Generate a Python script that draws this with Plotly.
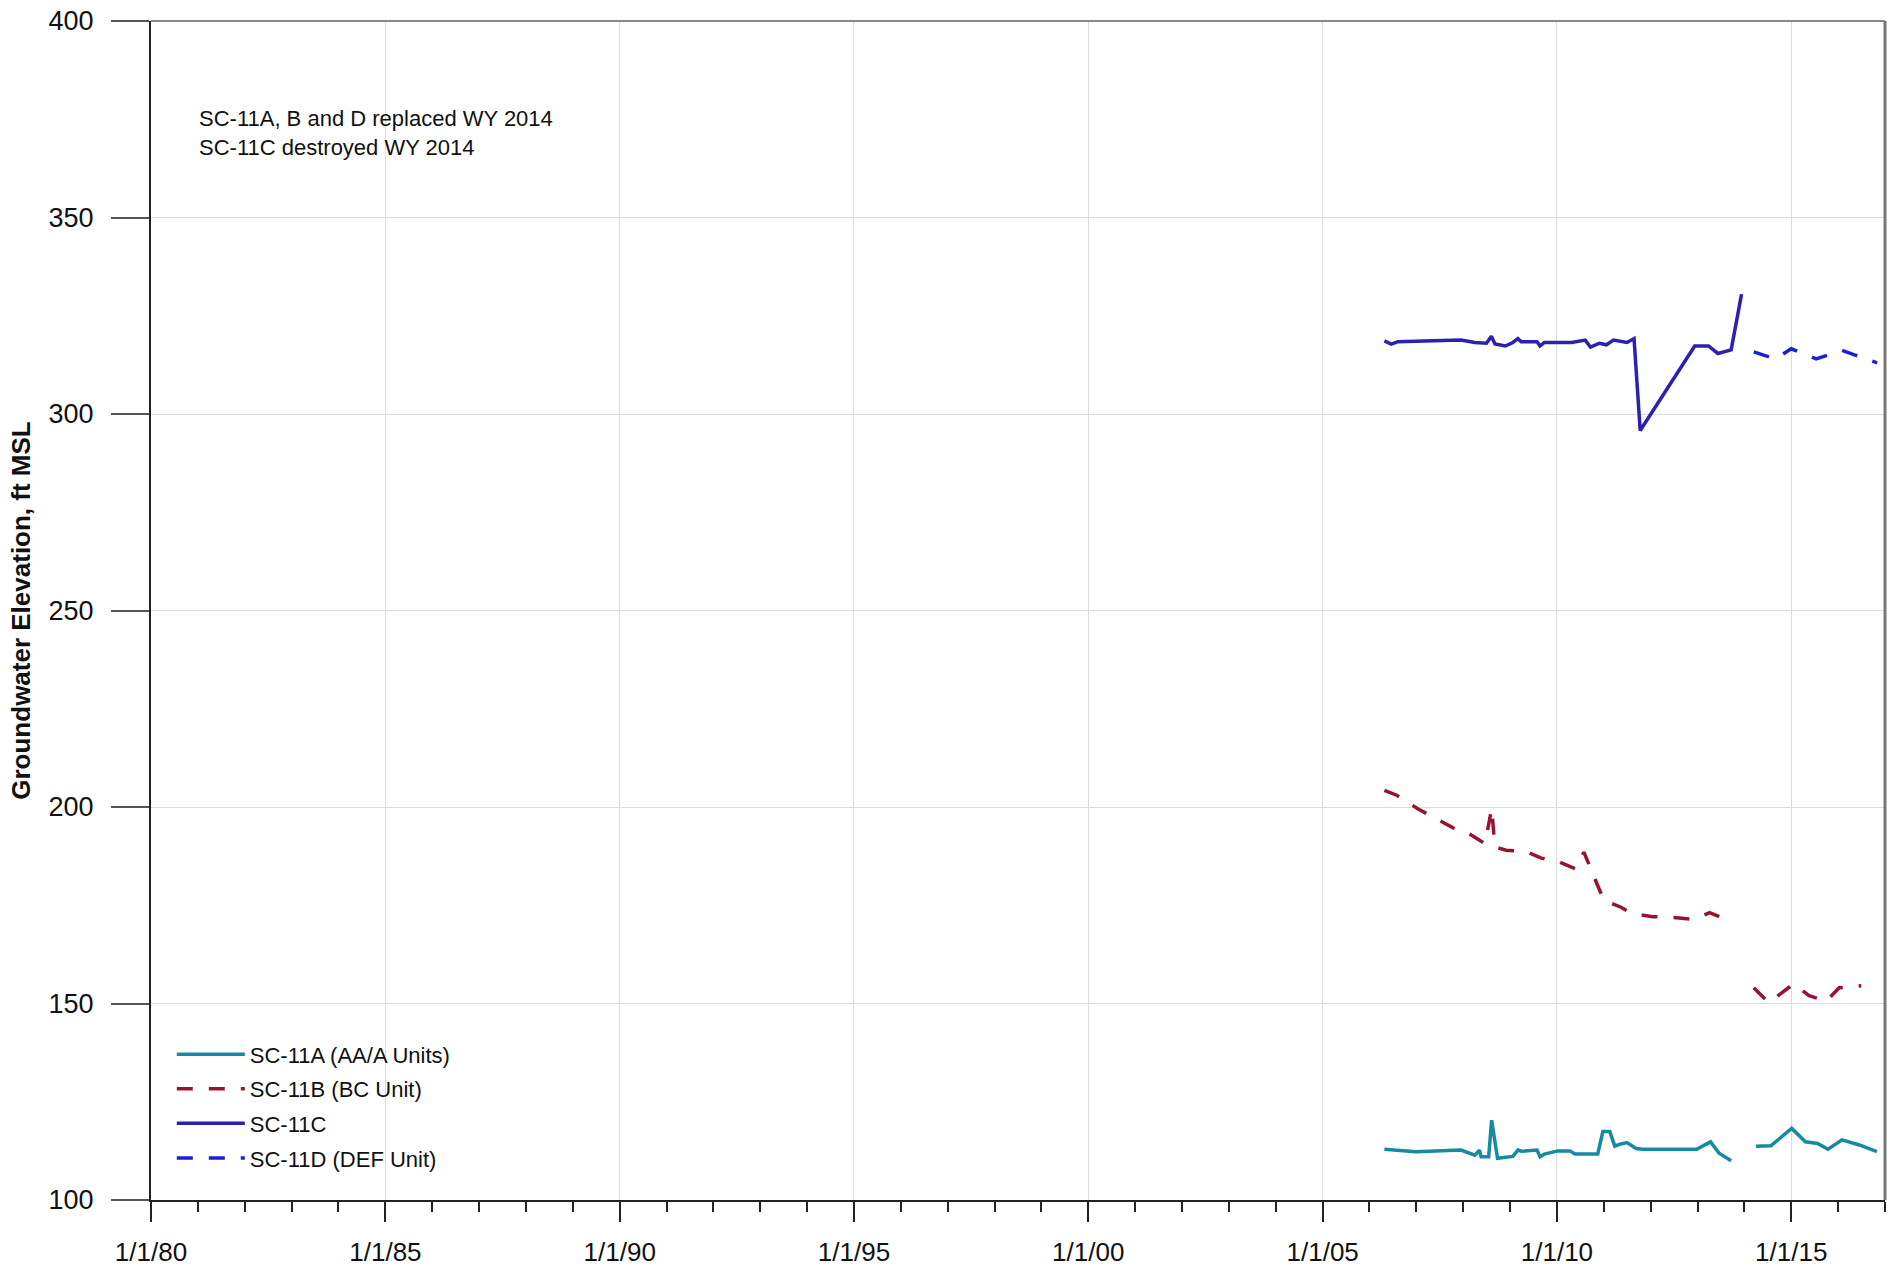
import plotly.graph_objects as go

# ---------------- data ----------------
sc11a_dates = ["2006-04-27", "2006-12-28", "2007-12-15", "2008-04-01", "2008-05-08", "2008-05-20",
               "2008-07-18", "2008-08-10", "2008-09-25", "2008-11-25", "2009-01-22", "2009-03-03",
               "2009-04-01", "2009-07-30", "2009-08-22", "2009-09-25", "2010-01-08", "2010-04-12",
               "2010-05-22", "2010-11-15", "2010-12-25", "2011-02-17", "2011-03-28", "2011-05-08",
               "2011-07-01", "2011-09-10", "2011-10-30", "2012-12-25", "2013-04-12", "2013-06-18",
               "2013-09-20", "2014-01-01",
               "2014-04-01", "2014-07-26", "2015-01-05", "2015-04-22", "2015-07-26", "2015-10-15",
               "2016-02-01", "2016-06-15", "2016-10-30"]
sc11a_vals = [112.9, 112.3, 112.7, 111.4, 112.7, 111.0,
              111.0, 120.3, 110.6, 110.8, 111.1, 112.7,
              112.4, 112.7, 111.0, 111.7, 112.5, 112.5,
              111.7, 111.7, 117.4, 117.4, 113.7, 114.2,
              114.6, 113.1, 112.9, 112.9, 114.8, 111.9,
              110.0, None,
              113.7, 113.8, 118.2, 114.8, 114.4, 112.9,
              115.3, 114.0, 112.3]

sc11b_dates = ["2006-04-27", "2006-08-01", "2007-01-15", "2007-10-15", "2008-02-15", "2008-06-20",
               "2008-08-10", "2008-09-05", "2008-12-01", "2009-05-01", "2009-09-01", "2010-01-20",
               "2010-05-25", "2010-07-30", "2011-01-01", "2011-05-15", "2011-08-15", "2012-01-20",
               "2012-07-01", "2012-12-05", "2013-04-05", "2013-09-20", "2014-01-01",
               "2014-03-15", "2014-07-10", "2015-01-20", "2015-05-20", "2015-10-01", "2016-01-10",
               "2016-06-30"]
sc11b_vals = [204.2, 203.0, 199.5, 194.7, 193.2, 190.7,
              199.6, 189.8, 189.0, 188.7, 187.0, 186.0,
              184.3, 188.5, 176.3, 174.5, 172.8, 172.1,
              171.9, 171.4, 173.1, 170.9, None,
              154.0, 150.2, 155.0, 152.0, 150.6, 154.0,
              154.5]

sc11c_dates = ["2006-04-27", "2006-06-20", "2006-08-10", "2007-12-15", "2008-04-01", "2008-07-01",
               "2008-08-08", "2008-09-05", "2008-11-25", "2009-01-22", "2009-03-03", "2009-03-28",
               "2009-07-30", "2009-08-22", "2009-09-25", "2010-04-25", "2010-08-10", "2010-09-20",
               "2010-11-28", "2011-01-22", "2011-03-18", "2011-05-08", "2011-07-01", "2011-08-25",
               "2011-10-12", "2012-12-10", "2013-03-28", "2013-06-08", "2013-09-20", "2013-12-10"]
sc11c_vals = [318.6, 317.8, 318.4, 318.8, 318.2, 318.0,
              319.8, 317.8, 317.3, 318.2, 319.2, 318.4,
              318.4, 317.3, 318.2, 318.2, 318.8, 317.0,
              318.0, 317.6, 318.8, 318.4, 318.2, 319.2,
              295.8, 317.3, 317.3, 315.4, 316.3, 330.5]

sc11d_dates = ["2014-03-15", "2014-09-01", "2015-01-01", "2015-07-15", "2016-02-01", "2016-11-01"]
sc11d_vals = [315.8, 314.0, 316.6, 314.0, 316.2, 313.0]

x_tick_vals = ["1980-01-01", "1985-01-01", "1990-01-01", "1995-01-01", "2000-01-01",
               "2005-01-01", "2010-01-01", "2015-01-01"]
x_tick_text = ["1/1/80", "1/1/85", "1/1/90", "1/1/95", "1/1/00", "1/1/05", "1/1/10", "1/1/15"]
y_tick_vals = [100, 150, 200, 250, 300, 350, 400]

names = ["SC-11A (AA/A Units)", "SC-11B (BC Unit)", "SC-11C", "SC-11D (DEF Unit)"]

# ---------------- figure ----------------
FONT = "Liberation Sans, Arial, sans-serif"
fig = go.Figure()

fig.add_trace(go.Scatter(x=sc11a_dates, y=sc11a_vals, mode="lines", name=names[0],
                         legendgroup="a", line=dict(color="#168aa3", width=3.5)))
fig.add_trace(go.Scatter(x=sc11b_dates, y=sc11b_vals, mode="lines", name=names[1],
                         legendgroup="b", line=dict(color="#961430", width=3.5, dash="16px,16px")))
fig.add_trace(go.Scatter(x=sc11c_dates, y=sc11c_vals, mode="lines", name=names[2],
                         legendgroup="c", line=dict(color="#2c1fb2", width=3.5)))
fig.add_trace(go.Scatter(x=sc11d_dates, y=sc11d_vals, mode="lines", name=names[3],
                         legendgroup="d", line=dict(color="#1c1ed6", width=3.5, dash="16px,16px")))

fig.update_layout(
    width=1893, height=1275,
    margin=dict(l=151, r=8, t=21, b=75, autoexpand=False),
    paper_bgcolor="white", plot_bgcolor="white",
    font=dict(family=FONT, size=26, color="#111"),
    showlegend=True,
    legend=dict(x=0.012, y=0.0175, xanchor="left", yanchor="bottom",
                font=dict(family=FONT, size=22, color="#111"),
                itemwidth=68,
                bgcolor="rgba(255,255,255,0)", traceorder="grouped", tracegroupgap=3),
    annotations=[dict(text="SC-11A, B and D replaced WY 2014<br>SC-11C destroyed WY 2014",
                      xref="paper", yref="paper", x=0.0265, y=0.9295,
                      xanchor="left", yanchor="top", align="left", showarrow=False,
                      font=dict(family=FONT, size=22, color="#111"))],
    shapes=[
        dict(type="line", xref="paper", yref="paper", x0=0, x1=1, y0=1, y1=1,
             line=dict(color="#888", width=2)),
        dict(type="line", xref="paper", yref="paper", x0=1, x1=1, y0=0, y1=1,
             line=dict(color="#777", width=3)),
    ],
)

fig.update_xaxes(
    type="date", range=["1980-01-01", "2017-01-01"],
    tickvals=x_tick_vals, ticktext=x_tick_text,
    ticks="outside", ticklen=20, tickwidth=2, tickcolor="#222",
    showline=True, linecolor="#222", linewidth=2,
    showgrid=True, gridcolor="#dcdcdc", gridwidth=1,
    tickfont=dict(family=FONT, size=26, color="#111"),
    ticklabelstandoff=8, ticklabeloverflow="allow", automargin=False,
    minor=dict(dtick="M12", ticks="outside", ticklen=10, tickwidth=2, tickcolor="#222", showgrid=False),
    zeroline=False,
)

fig.update_yaxes(
    range=[100, 400], tickvals=y_tick_vals,
    ticks="outside", ticklen=38, tickwidth=2, tickcolor="#555",
    showline=True, linecolor="#222", linewidth=2,
    showgrid=True, gridcolor="#dcdcdc", gridwidth=1,
    tickfont=dict(family=FONT, size=27, color="#111"),
    ticklabelstandoff=12, ticklabeloverflow="allow", automargin=False,
    title=dict(text="<b>Groundwater Elevation, ft MSL</b>", standoff=10,
               font=dict(family=FONT, size=26, color="#111")),
    zeroline=False,
)

fig.write_html("out.html", config={"displayModeBar": False},
               post_script="document.body.style.margin='0';document.body.style.overflow='hidden';")
